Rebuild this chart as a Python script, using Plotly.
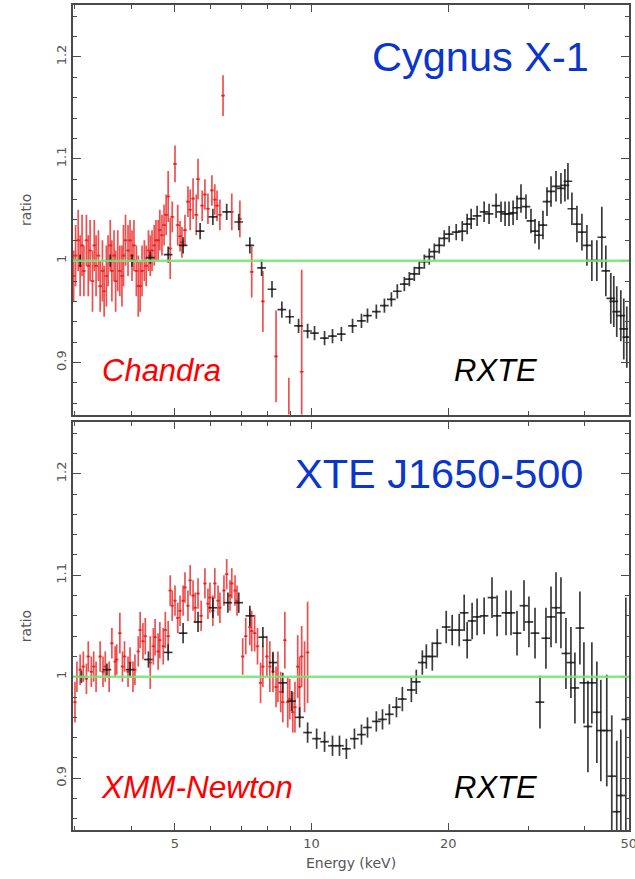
import math
import plotly.graph_objects as go

# ---------------- data ----------------
# Top panel: Cygnus X-1
chandra_E = [2.99, 3.02, 3.06, 3.09, 3.12, 3.15, 3.19, 3.22, 3.25, 3.29, 3.32, 3.35, 3.39, 3.42,
             3.46, 3.49, 3.53, 3.56, 3.60, 3.63, 3.67, 3.70, 3.74, 3.78, 3.82, 3.85, 3.89, 3.94,
             3.98, 4.02, 4.06, 4.11, 4.15, 4.19, 4.23, 4.28, 4.32, 4.37, 4.41, 4.45, 4.50, 4.54,
             4.59, 4.63, 4.68, 4.73, 4.78, 4.83, 4.88, 4.93, 5.00, 5.07, 5.13, 5.18, 5.26, 5.34,
             5.40, 5.48, 5.57, 5.62, 5.74, 5.82, 5.91, 6.03, 6.12, 6.19, 6.28, 6.38, 6.67, 6.95,
             7.38, 7.81, 8.35, 8.91, 9.51]
chandra_ratio = [0.985, 1.005, 1.02, 0.995, 1.015, 0.99, 1.02, 0.995, 1.01, 0.98, 1.015, 0.995, 1.005, 0.975,
                 0.99, 0.97, 0.985, 1.0, 1.015, 0.99, 1.005, 0.98, 1.0, 0.99, 0.985, 1.005, 1.02, 1.01,
                 1.02, 1.005, 1.015, 0.99, 0.975, 0.975, 0.99, 1.0, 0.995, 1.01, 1.005, 1.01, 1.015, 1.02,
                 1.02, 1.03, 1.025, 1.035, 1.045, 1.063, 1.012, 1.043, 1.095, 1.035, 1.024, 1.018, 1.03, 1.058,
                 1.05, 1.061, 1.045, 1.08, 1.054, 1.065, 1.051, 1.069, 1.06, 1.054, 1.045, 1.162, 1.048, 1.041,
                 0.989, 0.96, 0.906, 0.82, 0.891]
chandra_err = [0.025, 0.03, 0.03, 0.03, 0.03, 0.025, 0.025, 0.03, 0.03, 0.03, 0.025, 0.03, 0.025, 0.025,
               0.03, 0.025, 0.03, 0.025, 0.025, 0.03, 0.025, 0.03, 0.03, 0.025, 0.03, 0.03, 0.025, 0.025,
               0.02, 0.025, 0.025, 0.025, 0.03, 0.025, 0.025, 0.02, 0.02, 0.02, 0.02, 0.02, 0.02, 0.02,
               0.02, 0.02, 0.02, 0.02, 0.02, 0.025, 0.03, 0.015, 0.018, 0.02, 0.015, 0.015, 0.015, 0.015,
               0.02, 0.02, 0.02, 0.02, 0.015, 0.015, 0.015, 0.015, 0.015, 0.015, 0.015, 0.02, 0.018, 0.018,
               0.025, 0.03, 0.045, 0.065, 0.1]

rxte1_E = [3.09, 3.60, 4.02, 4.41, 4.83, 5.21, 5.68, 6.06, 6.50, 6.91, 7.31, 7.76, 8.18, 8.60, 8.95,
           9.36, 9.80, 10.15, 10.68, 11.12, 11.63, 12.31, 12.88, 13.28, 13.89, 14.47, 14.99, 15.45,
           16.01, 16.42, 16.84, 17.27, 17.72, 18.17, 18.64, 19.11, 19.60, 20.10, 20.83, 21.48, 22.02,
           22.47, 23.16, 24.00, 24.61, 25.50, 26.15, 26.69, 27.23, 27.80, 28.36, 28.94, 29.68, 30.44,
           31.07, 31.70, 32.35, 33.02, 33.70, 34.56, 35.44, 36.16, 36.72, 37.47, 38.43, 39.42, 40.43,
           41.46, 42.52, 43.61, 44.51, 45.64, 46.34, 47.04, 48.02, 48.75, 49.50]
rxte1_ratio = [1.0, 1.0, 1.0, 1.003, 1.006, 1.015, 1.029, 1.043, 1.048, 1.038, 1.015, 0.993, 0.972, 0.952, 0.945,
               0.936, 0.931, 0.929, 0.924, 0.926, 0.928, 0.936, 0.941, 0.946, 0.950, 0.956, 0.962, 0.970,
               0.977, 0.982, 0.987, 0.993, 0.999, 1.004, 1.009, 1.015, 1.022, 1.026, 1.028, 1.029, 1.036,
               1.041, 1.044, 1.048, 1.046, 1.054, 1.048, 1.046, 1.046, 1.047, 1.052, 1.061, 1.053, 1.039,
               1.029, 1.025, 1.035, 1.058, 1.068, 1.073, 1.071, 1.074, 1.078, 1.051, 1.036, 1.028, 1.015,
               1.0, 1.0, 1.023, 0.99, 0.963, 0.96, 0.95, 0.946, 0.933, 0.925]
rxte1_err = [0.006, 0.006, 0.006, 0.006, 0.008, 0.008, 0.008, 0.008, 0.008, 0.008, 0.008, 0.008, 0.008, 0.008, 0.007,
             0.007, 0.007, 0.007, 0.007, 0.007, 0.007, 0.007, 0.007, 0.007, 0.007, 0.007, 0.007, 0.007,
             0.007, 0.007, 0.007, 0.007, 0.007, 0.008, 0.008, 0.008, 0.008, 0.008, 0.008, 0.01, 0.01,
             0.01, 0.01, 0.01, 0.01, 0.012, 0.01, 0.012, 0.012, 0.012, 0.012, 0.014, 0.012, 0.012,
             0.012, 0.014, 0.014, 0.014, 0.015, 0.015, 0.015, 0.016, 0.018, 0.016, 0.018, 0.018, 0.02,
             0.02, 0.02, 0.03, 0.025, 0.025, 0.025, 0.025, 0.025, 0.03, 0.03]

# Bottom panel: XTE J1650-500
xmm_E = [3.01, 3.04, 3.09, 3.14, 3.19, 3.22, 3.27, 3.31, 3.35, 3.42, 3.47, 3.51, 3.58, 3.63, 3.69,
         3.72, 3.78, 3.83, 3.87, 3.94, 3.98, 4.04, 4.08, 4.15, 4.19, 4.25, 4.30, 4.41, 4.48, 4.52,
         4.59, 4.63, 4.71, 4.76, 4.83, 4.88, 4.93, 5.00, 5.07, 5.13, 5.21, 5.26, 5.34, 5.40, 5.48,
         5.54, 5.62, 5.71, 5.82, 5.91, 5.97, 6.06, 6.12, 6.22, 6.28, 6.41, 6.50, 6.61, 6.67, 6.78,
         6.85, 7.05, 7.16, 7.31, 7.38, 7.49, 7.60, 7.72, 7.81, 7.97, 8.09, 8.22, 8.35, 8.43, 8.55,
         8.64, 8.73, 8.86, 8.95, 9.09, 9.19, 9.32, 9.41, 9.51, 9.65, 9.80]
xmm_ratio = [0.975, 1.0, 1.007, 1.01, 0.998, 1.02, 1.005, 1.01, 1.0, 1.02, 1.005, 1.01, 1.0, 1.033, 1.015,
             1.017, 1.043, 1.01, 1.02, 1.005, 1.014, 1.0, 1.007, 1.025, 1.046, 1.035, 1.04, 1.014, 1.03, 1.039,
             1.025, 1.036, 1.03, 1.046, 1.04, 1.085, 1.07, 1.075, 1.058, 1.065, 1.075, 1.088, 1.07, 1.095, 1.08,
             1.068, 1.082, 1.06, 1.092, 1.072, 1.078, 1.065, 1.092, 1.075, 1.068, 1.085, 1.101, 1.08, 1.092, 1.085,
             1.075, 1.02, 1.04, 1.049, 1.045, 1.043, 1.03, 0.994, 1.01, 1.02, 1.01, 1.005, 0.99, 1.0, 0.985,
             0.975, 1.036, 0.975, 0.978, 0.965, 0.97, 1.01, 0.99, 1.02, 1.0, 1.024]
xmm_err = [0.02, 0.015, 0.015, 0.015, 0.015, 0.015, 0.015, 0.015, 0.015, 0.015, 0.015, 0.015, 0.015, 0.015, 0.015,
           0.015, 0.02, 0.015, 0.015, 0.015, 0.015, 0.015, 0.015, 0.015, 0.018, 0.018, 0.018, 0.026, 0.018, 0.018,
           0.018, 0.018, 0.018, 0.018, 0.015, 0.015, 0.015, 0.015, 0.015, 0.015, 0.015, 0.015, 0.015, 0.015, 0.015,
           0.015, 0.015, 0.015, 0.015, 0.015, 0.015, 0.015, 0.015, 0.015, 0.015, 0.015, 0.015, 0.015, 0.015, 0.015,
           0.015, 0.018, 0.018, 0.018, 0.02, 0.018, 0.018, 0.02, 0.02, 0.02, 0.025, 0.02, 0.02, 0.025, 0.02,
           0.02, 0.028, 0.025, 0.02, 0.02, 0.025, 0.031, 0.03, 0.03, 0.035, 0.05]

rxte2_E = [3.11, 3.54, 3.98, 4.37, 4.83, 5.21, 5.62, 6.06, 6.54, 6.91, 7.31, 7.81, 8.22, 8.64, 9.04,
           9.41, 9.80, 10.26, 10.68, 11.12, 11.52, 11.93, 12.43, 12.88, 13.28, 13.89, 14.33, 14.84,
           15.38, 15.85, 16.59, 17.01, 17.54, 17.90, 18.45, 18.92, 19.80, 20.41, 21.15, 21.69, 22.02,
           22.58, 23.16, 24.00, 24.98, 25.63, 26.82, 27.51, 28.36, 29.38, 30.13, 31.07, 31.86, 32.84,
           33.70, 34.56, 35.44, 36.35, 37.28, 38.04, 39.02, 39.82, 40.64, 41.46, 42.52, 43.39, 44.72,
           45.87, 47.04, 48.02, 49.26]
rxte2_ratio = [1.0, 1.007, 1.007, 1.017, 1.024, 1.043, 1.054, 1.068, 1.073, 1.073, 1.06, 1.039, 1.014, 0.994, 0.976,
               0.960, 0.945, 0.939, 0.936, 0.932, 0.932, 0.929, 0.939, 0.943, 0.950, 0.956, 0.958, 0.963,
               0.970, 0.978, 0.987, 0.995, 1.014, 1.020, 1.020, 1.033, 1.049, 1.046, 1.046, 1.063, 1.036,
               1.055, 1.059, 1.060, 1.078, 1.06, 1.063, 1.063, 1.043, 1.07, 1.054, 1.043, 0.975, 1.038,
               1.059, 1.068, 1.063, 1.023, 1.014, 0.989, 1.048, 0.994, 0.951, 0.994, 0.965, 0.947, 0.947,
               0.902, 0.867, 0.883, 0.958]
rxte2_err = [0.006, 0.006, 0.007, 0.008, 0.008, 0.01, 0.01, 0.01, 0.01, 0.01, 0.01, 0.01, 0.01, 0.01, 0.01,
             0.01, 0.01, 0.01, 0.01, 0.01, 0.01, 0.01, 0.01, 0.01, 0.01, 0.01, 0.01, 0.01,
             0.01, 0.012, 0.012, 0.012, 0.012, 0.012, 0.014, 0.014, 0.016, 0.015, 0.016, 0.018, 0.018,
             0.018, 0.018, 0.018, 0.02, 0.02, 0.022, 0.022, 0.022, 0.025, 0.025, 0.025, 0.026, 0.03,
             0.03, 0.035, 0.035, 0.035, 0.035, 0.035, 0.036, 0.04, 0.045, 0.04, 0.05, 0.05, 0.055,
             0.06, 0.07, 0.065, 0.12]

x_tickvals = [5, 10, 20, 50]
x_ticktext = ["5", "10", "20", "50"]
x_minor = [3, 4, 6, 7, 8, 9, 30, 40]
y_tickvals = [0.9, 1.0, 1.1, 1.2]
y_ticktext = ["0.9", "1", "1.1", "1.2"]

# ---------------- figure ----------------
RED = "rgba(236,30,30,0.78)"
BLACK = "rgba(25,25,25,0.85)"
fig = go.Figure()


def add(E, r, err, color, xpct, xa, ya):
    fig.add_trace(go.Scatter(
        x=E, y=r, mode="markers", xaxis=xa, yaxis=ya,
        marker=dict(size=2, color=color),
        error_y=dict(type="data", array=err, color=color, thickness=1.7, width=0),
        error_x=dict(type="percent", value=xpct, color=color, thickness=1.7, width=0),
        showlegend=False, hoverinfo="skip"))


add(chandra_E, chandra_ratio, chandra_err, RED, 1.0, "x", "y")
add(rxte1_E, rxte1_ratio, rxte1_err, BLACK, 2.2, "x", "y")
add(xmm_E, xmm_ratio, xmm_err, RED, 0.9, "x2", "y2")
add(rxte2_E, rxte2_ratio, rxte2_err, BLACK, 2.2, "x2", "y2")

AX = "#4a4a4a"
TICKFONT = dict(family="DejaVu Sans", size=13, color="#555")
xcommon = dict(type="log", range=[math.log10(2.98), math.log10(50) + 0.0005],
               showline=True, linecolor=AX, linewidth=2, mirror="ticks",
               ticks="inside", ticklen=7, tickwidth=1.3, tickcolor=AX,
               tickvals=x_tickvals, ticktext=x_ticktext, tickfont=TICKFONT,
               ticklabeloverflow="allow", automargin=False,
               minor=dict(tickvals=x_minor, ticks="inside", ticklen=4, tickcolor=AX, tickwidth=1.2),
               showgrid=False, zeroline=False)
ycommon = dict(range=[0.849, 1.251], showline=True, linecolor=AX, linewidth=2, mirror="ticks",
               ticks="inside", ticklen=8, tickwidth=1.3, tickcolor=AX,
               tickvals=y_tickvals, ticktext=y_ticktext, tickangle=-90, tickfont=TICKFONT,
               automargin=False,
               minor=dict(dtick=0.02, tick0=0.9, ticks="inside", ticklen=4, tickcolor=AX, tickwidth=1.2),
               showgrid=False, zeroline=False,
               title=dict(text="ratio", font=dict(family="DejaVu Sans", size=14, color="#555"), standoff=19))

fig.update_layout(
    width=635, height=879, margin=dict(l=73, r=6, t=5, b=49, autoexpand=False),
    paper_bgcolor="white", plot_bgcolor="white",
    xaxis=dict(xcommon, anchor="y", showticklabels=False),
    xaxis2=dict(xcommon, anchor="y2", matches="x",
                title=dict(text="Energy (keV)", font=dict(family="DejaVu Sans", size=14, color="#555"), standoff=9)),
    yaxis=dict(ycommon, domain=[0.5036, 1.0], anchor="x"),
    yaxis2=dict(ycommon, domain=[0.0, 0.4945], anchor="x2"),
)

GREEN = "rgba(120,230,120,0.9)"
fig.add_hline(y=1.0, line=dict(color=GREEN, width=2.5), xref="x", yref="y", layer="above")
fig.add_hline(y=1.0, line=dict(color=GREEN, width=2.5), xref="x2", yref="y2", layer="above")

AF = "Liberation Sans, Arial, sans-serif"
BLUE = "#0a36cc"
notes = [
    ("Cygnus X-1", 0.7338, 0.937, BLUE, 41.5),
    ("XTE J1650-500", 0.658, 0.4327, BLUE, 41.5),
    ("<i>Chandra</i>", 0.160, 0.557, "#ff0000", 31),
    ("<i>RXTE</i>", 0.760, 0.557, "#000000", 31),
    ("<i>XMM-Newton</i>", 0.223, 0.0521, "#ff0000", 31.5),
    ("<i>RXTE</i>", 0.760, 0.0521, "#000000", 31),
]
for text, x, y, col, size in notes:
    fig.add_annotation(text=text, x=x, y=y, xref="paper", yref="paper",
                       xanchor="center", yanchor="middle", showarrow=False,
                       font=dict(family=AF, size=size, color=col))

fig.write_html("out.html")
